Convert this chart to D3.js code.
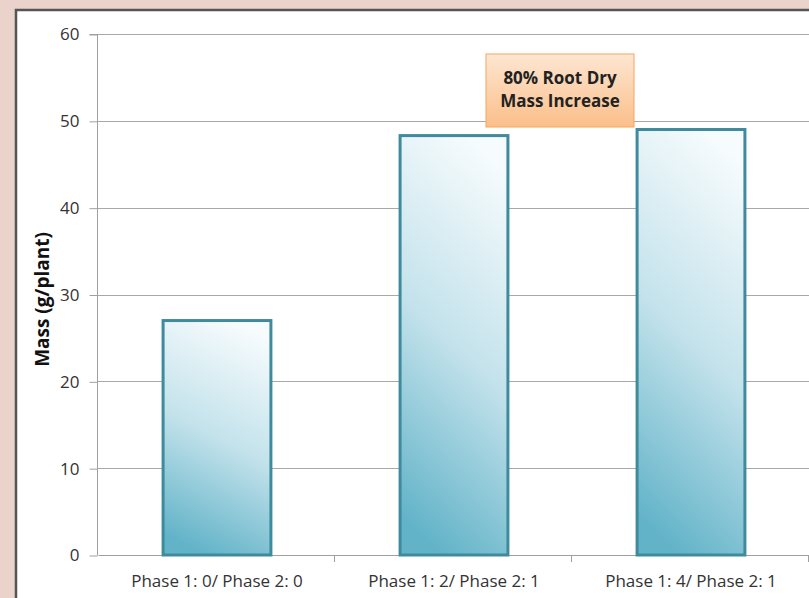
<!DOCTYPE html>
<meta charset="utf-8">
<style>
body { margin: 0; background: #ead3ca; }
svg { display: block; font-family: "Open Sans", sans-serif; }
.grid line { stroke: #a8a8a8; }
</style>
<body>
<script src="https://d3js.org/d3.v7.min.js"></script>
<script>

var categories = ["Phase 1: 0/ Phase 2: 0", "Phase 1: 2/ Phase 2: 1", "Phase 1: 4/ Phase 2: 1"];
var values = [27, 48.3, 49.0];
var yTicks = [0, 10, 20, 30, 40, 50, 60];
var noteLines = ["80% Root Dry", "Mass Increase"];
var yLabel = "Mass (g/plant)";

var width = 809, height = 598;
var margin = {left: 97, top: 34, right: 1, bottom: 43};

var svg = d3.select("body").append("svg")
    .attr("width", width)
    .attr("height", height);

var defs = svg.append("defs");
var barGrad = defs.append("linearGradient")
    .attr("id", "barGrad")
    .attr("x1", "0.62").attr("y1", "0").attr("x2", "0.38").attr("y2", "1");
barGrad.append("stop").attr("offset", "0").attr("stop-color", "#f6fbfd");
barGrad.append("stop").attr("offset", "0.5").attr("stop-color", "#c3e2eb");
barGrad.append("stop").attr("offset", "1").attr("stop-color", "#62b3c8");

var noteGrad = defs.append("linearGradient")
    .attr("id", "noteGrad")
    .attr("x1", "0").attr("y1", "0").attr("x2", "0").attr("y2", "1");
noteGrad.append("stop").attr("offset", "0").attr("stop-color", "#fde6d2");
noteGrad.append("stop").attr("offset", "1").attr("stop-color", "#fbbf8a");

// white panel with dark frame on top/left
svg.append("rect")
    .attr("x", 16).attr("y", 10)
    .attr("width", width).attr("height", height)
    .attr("fill", "#fff")
    .attr("stroke", "#555")
    .attr("stroke-width", 2.5);

var x = d3.scaleBand()
    .domain(categories)
    .range([margin.left, width - margin.right])
    .paddingInner(0).paddingOuter(0);

var y = d3.scaleLinear()
    .domain([0, 60])
    .range([height - margin.bottom, margin.top]);

// gridlines
svg.append("g")
    .attr("class", "grid")
    .selectAll("line")
    .data(yTicks.slice(1))
  .enter()
    .append("line")
    .attr("x1", margin.left).attr("x2", width)
    .attr("y1", d => Math.round(y(d)) + 0.5)
    .attr("y2", d => Math.round(y(d)) + 0.5);

var yAxis = svg.append("g")
    .attr("transform", `translate(${margin.left + 0.5},0.5)`)
    .call(d3.axisLeft(y).tickValues(yTicks).tickSize(8).tickPadding(10));
yAxis.selectAll("line, path").attr("stroke", "#a0a0a0");
yAxis.select(".domain").attr("d", `M-8,${y(60)}H0V${y(0)}`);

var xAxis = svg.append("g")
    .attr("transform", `translate(1.5,${height - margin.bottom + 0.5})`)
    .call(d3.axisBottom(x).tickSize(0).tickPadding(19));
xAxis.select(".domain").attr("stroke", "#a0a0a0").attr("d", `M${margin.left},0H${width}`);

svg.selectAll(".tick text")
    .style("font-family", "'Open Sans', sans-serif")
    .style("font-size", "17px")
    .style("fill", "#333");

// category separators below the axis
svg.append("g").selectAll("line")
    .data(categories)
  .enter()
    .append("line")
    .attr("x1", d => x(d) + x.bandwidth() + 0.5)
    .attr("x2", d => x(d) + x.bandwidth() + 0.5)
    .attr("y1", y(0)).attr("y2", y(0) + 7)
    .attr("stroke", "#a0a0a0");

var barW = x.bandwidth() * 0.455;
svg.append("g").selectAll("rect")
    .data(values)
  .enter()
    .append("rect")
    .attr("x", (d, i) => x(categories[i]) + (x.bandwidth() - barW) / 2 + 1.5)
    .attr("y", d => y(d))
    .attr("width", barW)
    .attr("height", d => y(0) - y(d))
    .attr("fill", "url(#barGrad)")
    .attr("stroke", "#3f8b9d")
    .attr("stroke-width", 3);

svg.append("text")
    .attr("transform", `translate(49,${(y(0) + y(60)) / 2 + 5}) rotate(-90)`)
    .attr("text-anchor", "middle")
    .attr("font-size", 19)
    .attr("font-weight", "bold")
    .attr("fill", "#111")
    .text(yLabel);

// annotation box
var note = svg.append("g").attr("transform", "translate(486,54)");
note.append("rect")
    .attr("width", 148).attr("height", 73)
    .attr("fill", "url(#noteGrad)")
    .attr("stroke", "#f4a75f")
    .attr("stroke-width", 1);
note.selectAll("text")
    .data(noteLines)
  .enter()
    .append("text")
    .attr("x", 74)
    .attr("y", (d, i) => 30 + i * 23)
    .attr("text-anchor", "middle")
    .attr("font-size", 17)
    .attr("font-weight", "bold")
    .attr("fill", "#222")
    .text(d => d);

</script>
